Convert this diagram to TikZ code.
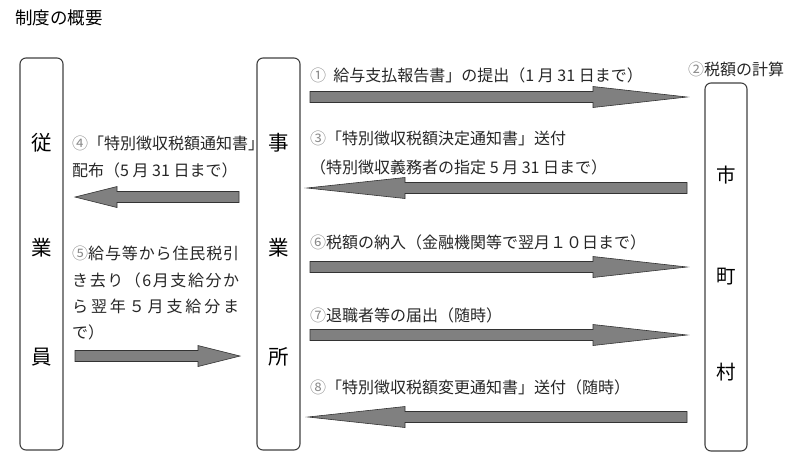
\documentclass[tikz,border=0pt]{standalone}
\usepackage{fontspec}
\setmainfont{Noto Sans CJK JP}
\usetikzlibrary{calc,positioning}

\tikzset{
  pillar/.style={draw=black!75, line width=1.1pt, rounded corners=6pt,
    minimum width=43pt, inner sep=0pt},
  bigchar/.style={font=\fontsize{20.5}{22}\selectfont, text=black},
  lbl/.style={anchor=west, inner sep=0pt, font=\fontsize{16}{18}\selectfont, text=black!85},
  blockarrow/.style={fill=black!50, draw=black!80, line width=0.6pt}
}
\newcommand{\cnum}[1]{\textcolor{black!45}{#1}}
% spread the characters of one line to a fixed width
\makeatletter
\newcommand{\spread}[2]{\makebox[#1][s]{\spread@#2\relax}}
\def\spread@#1{\ifx#1\relax\unskip\else#1\hfil\expandafter\spread@\fi}
\makeatother
% horizontal block arrow: tail, tip, signed head length
\newcommand{\blockarr}[3]{%
  \filldraw[blockarrow] ($(#1)+(0,5.5)$) -- ($(#2)+({-(#3)},5.5)$)
    -- ($(#2)+({-(#3)},10.5)$) -- (#2) -- ($(#2)+({-(#3)},-10.5)$)
    -- ($(#2)+({-(#3)},-5.5)$) -- ($(#1)+(0,-5.5)$) -- cycle;}

\begin{document}
\begin{tikzpicture}[x=1pt, y=-1pt]
  \useasboundingbox (0,0) rectangle (800,461);
  \node[anchor=west, inner sep=0pt, font=\fontsize{17.5}{19}\selectfont] (title) at (15,18) {制度の概要};

  % the three parties
  \node[pillar, minimum height=392pt] (emp) at (41.5,254) {};
  \node[pillar, minimum height=392pt] (office) at (278.5,254) {};
  \node[pillar, minimum height=368pt, minimum width=42pt] (city) at (726,267) {};
  \foreach \c/\y [count=\i] in {従/143,業/248,員/357}
    \node[bigchar] (e\i) at (emp.center |- 0,\y) {\c};
  \foreach \c/\y [count=\i] in {事/143,業/248,所/357}
    \node[bigchar] (o\i) at (office.center |- 0,\y) {\c};
  \foreach \c/\y [count=\i] in {市/175,町/277,村/372}
    \node[bigchar, font=\fontsize{19.5}{22}\selectfont] (c\i) at (city.center |- 0,\y) {\c};

  % labels
  \node[lbl] (l1) at (310,75) {\cnum{①}\ \ 給与支払報告書」の提出（1 月 31 日まで）};
  \node[lbl] (l2) at (688,69) {\cnum{②}税額の計算};
  \node[lbl] (l3) at (310,138) {\cnum{③}「特別徴収税額決定通知書」送付};
  \node[lbl] (l3b) at (310,167) {（特別徴収義務者の指定 5 月 31 日まで）};
  \node[lbl] (l4) at (72,143) {\cnum{④}「特別徴収税額通知書」};
  \node[lbl] (l4b) at (72,170) {配布（5 月 31 日まで）};
  \foreach \t/\y [count=\i] in {{\cnum{⑤}\spread{151pt}{給与等から住民税引}}/253,
      {\spread{167pt}{き去り（6月支給分か}}/280,
      {\spread{167pt}{ら翌年５月支給分ま}}/306,
      で）/332}
    \node[lbl] (l5\i) at (72,\y) {\t};
  \node[lbl] (l6) at (310,242) {\cnum{⑥}税額の納入（金融機関等で翌月１０日まで）};
  \node[lbl] (l7) at (310,315) {\cnum{⑦}退職者等の届出（随時）};
  \node[lbl] (l8) at (310,387) {\cnum{⑧}「特別徴収税額変更通知書」送付（随時）};

  % arrows
  \coordinate (a1s) at (310,97);  \coordinate (a1t) at (687,97);
  \coordinate (a3s) at (687,188); \coordinate (a3t) at (307,188);
  \coordinate (a4s) at (239,197); \coordinate (a4t) at (75,197);
  \coordinate (a5s) at (75,356);  \coordinate (a5t) at (240,356);
  \coordinate (a6s) at (310,267); \coordinate (a6t) at (687,267);
  \coordinate (a7s) at (310,335); \coordinate (a7t) at (687,335);
  \coordinate (a8s) at (687,417); \coordinate (a8t) at (308,417);
  \blockarr{a1s}{a1t}{94}
  \blockarr{a3s}{a3t}{-98}
  \blockarr{a4s}{a4t}{-42}
  \blockarr{a5s}{a5t}{42}
  \blockarr{a6s}{a6t}{94}
  \blockarr{a7s}{a7t}{94}
  \blockarr{a8s}{a8t}{-97}
\end{tikzpicture}
\end{document}
